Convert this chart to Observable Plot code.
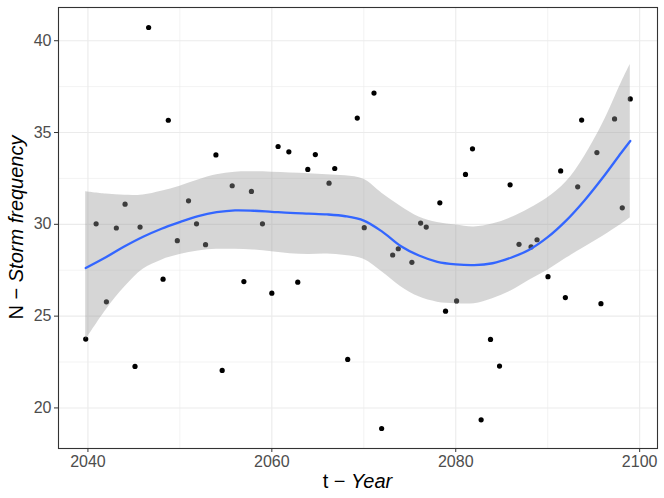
<!DOCTYPE html>
<html>
<head>
<meta charset="utf-8">
<script src="https://cdn.jsdelivr.net/npm/d3@7"></script>
<script src="https://cdn.jsdelivr.net/npm/@observablehq/plot@0.6"></script>
<style>
  html, body { margin: 0; padding: 0; background: #ffffff; }
  #chart { width: 664px; height: 498px; }
</style>
</head>
<body>
<div id="chart"></div>
<script>
// Observed points (t – Year, N – Storm frequency)
const years = [2039.76, 2040.89, 2042.01, 2043.09, 2044.04, 2045.12, 2045.67, 2046.60, 2048.17, 2048.74,
  2049.72, 2050.94, 2051.81, 2052.79, 2053.92, 2054.60, 2055.69, 2056.96, 2057.78, 2058.98,
  2060.00, 2060.68, 2061.85, 2062.82, 2063.91, 2064.73, 2066.22, 2066.84, 2068.25, 2069.29,
  2070.05, 2071.11, 2071.94, 2073.14, 2073.75, 2075.23, 2076.18, 2076.79, 2078.27, 2078.89,
  2080.09, 2081.06, 2081.82, 2082.76, 2083.78, 2084.76, 2085.91, 2086.88, 2088.19, 2088.84,
  2090.03, 2091.41, 2091.92, 2093.26, 2093.69, 2095.35, 2095.79, 2097.27, 2098.11, 2098.98];
const storms = [23.75, 30.03, 25.78, 29.80, 31.10, 22.26, 29.85, 40.72, 27.01, 35.67,
  29.11, 31.28, 30.03, 28.89, 33.78, 22.04, 32.10, 26.88, 31.79, 30.03,
  26.25, 34.24, 33.95, 26.85, 32.99, 33.80, 32.24, 33.04, 22.64, 35.79,
  29.82, 37.15, 18.88, 28.33, 28.67, 27.93, 30.07, 29.85, 31.17, 25.27,
  25.83, 32.72, 34.11, 19.35, 23.73, 22.28, 32.15, 28.91, 28.77, 29.16,
  27.15, 32.91, 26.01, 32.04, 35.68, 33.91, 25.68, 35.74, 30.90, 36.83];

// Smoother: fitted line and confidence band
const smoothYear  = [2039.76, 2042, 2044, 2046, 2048, 2050, 2052, 2054, 2056, 2058, 2060, 2062, 2064, 2066, 2068,
  2070, 2072, 2074, 2076, 2078, 2080, 2082, 2084, 2086, 2088, 2090, 2092, 2094, 2096, 2098, 2098.98];
const smoothFit   = [27.62, 28.22, 28.80, 29.32, 29.76, 30.12, 30.45, 30.66, 30.76, 30.74, 30.68, 30.62, 30.58, 30.54, 30.44,
  30.20, 29.60, 28.82, 28.30, 27.96, 27.82, 27.78, 27.88, 28.18, 28.62, 29.30, 30.20, 31.30, 32.55, 33.90, 34.54];
const smoothLower = [23.70, 25.35, 26.58, 27.55, 28.05, 28.35, 28.55, 28.64, 28.64, 28.60, 28.50, 28.40, 28.36, 28.38, 28.30,
  28.10, 27.40, 26.62, 26.05, 25.76, 25.68, 25.68, 25.95, 26.37, 26.95, 27.50, 28.15, 28.75, 29.35, 30.00, 30.36];
const smoothUpper = [31.78, 31.65, 31.58, 31.60, 31.80, 32.08, 32.42, 32.70, 32.84, 32.86, 32.84, 32.80, 32.76, 32.70, 32.64,
  32.45, 31.68, 30.98, 30.40, 30.10, 29.97, 29.86, 30.02, 30.36, 30.85, 31.45, 32.30, 33.70, 35.50, 37.70, 38.70];

// Axis ticks
const majorX = [2040, 2060, 2080, 2100];
const minorX = [2050, 2070, 2090];
const majorY = [20, 25, 30, 35, 40];
const minorY = [22.5, 27.5, 32.5, 37.5];

const points = years.map((t, i) => ({t, n: storms[i]}));
const smooth = smoothYear.map((t, i) => ({t, fit: smoothFit[i], lo: smoothLower[i], hi: smoothUpper[i]}));

const grid = "#EBEBEB";
const chart = Plot.plot({
  width: 664,
  height: 498,
  marginLeft: 58,
  marginRight: 7,
  marginTop: 7,
  marginBottom: 50,
  style: {fontFamily: "'Liberation Sans', Arial, sans-serif", background: "#ffffff"},
  x: {domain: [2036.8, 2101.94]},
  y: {domain: [17.79, 41.81]},
  marks: [
    Plot.ruleX(minorX, {stroke: grid, strokeWidth: 0.6}),
    Plot.ruleY(minorY, {stroke: grid, strokeWidth: 0.6}),
    Plot.ruleX(majorX.filter(d => d < 2101.94), {stroke: grid, strokeWidth: 1.1}),
    Plot.ruleY(majorY, {stroke: grid, strokeWidth: 1.1}),
    Plot.dot(points, {x: "t", y: "n", r: 2.6, fill: "#000000", stroke: null}),
    Plot.areaY(smooth, {x: "t", y1: "lo", y2: "hi", fill: "#999999", fillOpacity: 0.4, curve: "catmull-rom"}),
    Plot.line(smooth, {x: "t", y: "fit", stroke: "#3366FF", strokeWidth: 2.3, curve: "catmull-rom"}),
    Plot.frame({stroke: "#333333", strokeWidth: 1.1}),
    Plot.axisX({ticks: majorX, tickSize: 4, tickPadding: 3, fontSize: 16, stroke: "#333333", fill: "#4D4D4D",
      tickFormat: d => String(d), label: null}),
    Plot.axisY({ticks: majorY, tickSize: 4, tickPadding: 3, fontSize: 16, stroke: "#333333", fill: "#4D4D4D",
      tickFormat: d => String(d), label: null})
  ]
});
document.getElementById("chart").appendChild(chart);

const svg = d3.select(chart);
const xt = svg.append("text")
  .attr("x", 357.5).attr("y", 488)
  .attr("text-anchor", "middle")
  .attr("font-size", 20)
  .attr("fill", "#000000")
  .attr("font-family", "'Liberation Sans', Arial, sans-serif");
xt.append("tspan").text("t \u2212 ");
xt.append("tspan").attr("font-style", "italic").text("Year");

const yt = svg.append("text")
  .attr("transform", "translate(23,227.5) rotate(-90)")
  .attr("text-anchor", "middle")
  .attr("font-size", 20)
  .attr("fill", "#000000")
  .attr("font-family", "'Liberation Sans', Arial, sans-serif");
yt.append("tspan").text("N \u2212 ");
yt.append("tspan").attr("font-style", "italic").text("Storm frequency");
</script>
</body>
</html>
